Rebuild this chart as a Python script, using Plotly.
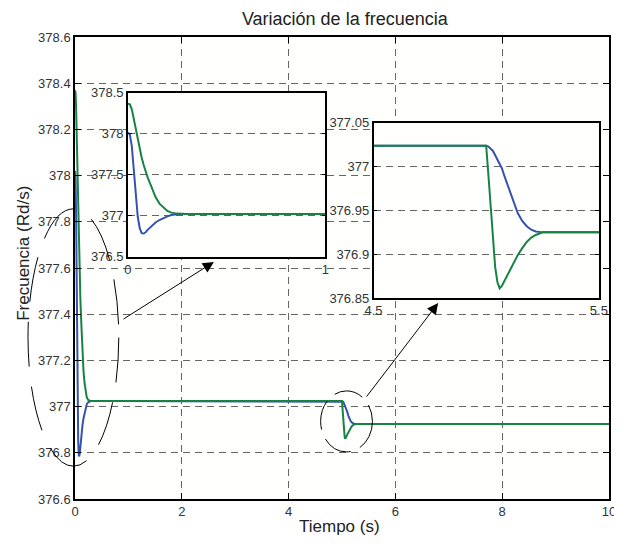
import plotly.graph_objects as go

# tiempo (s)
t = [0, 0.01, 0.02, 0.03, 0.04, 0.05, 0.06, 0.07, 0.08, 0.09, 0.10, 0.12, 0.14,
     0.16, 0.18, 0.20, 0.22, 0.25, 0.30, 0.60, 1.0, 2.0, 3.0, 4.0, 4.5, 5.0,
     5.01, 5.02, 5.03, 5.04, 5.05, 5.06, 5.07, 5.08, 5.10, 5.12, 5.14, 5.16,
     5.18, 5.20, 5.22, 5.25, 5.30, 5.40, 5.5, 6.0, 8.0, 10.0]

# frecuencia (Rd/s)
azul = [378.02, 377.99, 377.85, 377.55, 377.25, 376.99, 376.85, 376.79, 376.785,
        376.8, 376.83, 376.88, 376.92, 376.95, 376.975, 376.995, 377.01, 377.02,
        377.024, 377.024, 377.024, 377.024, 377.024, 377.024, 377.024, 377.024,
        377.023, 377.021, 377.018, 377.013, 377.008, 377.003, 376.998, 376.99,
        376.976, 376.96, 376.947, 376.938, 376.932, 376.928, 376.926, 376.925,
        376.925, 376.925, 376.925, 376.925, 376.925, 376.925]
verde = [378.37, 378.36, 378.3, 378.18, 378.05, 377.93, 377.81, 377.71, 377.62,
         377.54, 377.47, 377.35, 377.23, 377.15, 377.1, 377.06, 377.04, 377.028,
         377.024, 377.024, 377.024, 377.024, 377.024, 377.024, 377.024, 377.024,
         376.99, 376.955, 376.915, 376.885, 376.868, 376.861, 376.864, 376.869,
         376.88, 376.89, 376.899, 376.907, 376.914, 376.919, 376.922, 376.925,
         376.925, 376.925, 376.925, 376.925, 376.925, 376.925]

AZUL = "#3553ad"
VERDE = "#178243"
GRID = "#666666"
FUENTE = "Liberation Sans, Arial, sans-serif"

fig = go.Figure()

for xa, ya in [("x", "y"), ("x2", "y2"), ("x3", "y3")]:
    fig.add_trace(go.Scatter(x=t, y=azul, mode="lines", xaxis=xa, yaxis=ya,
                             line=dict(color=AZUL, width=2), showlegend=False))
    fig.add_trace(go.Scatter(x=t, y=verde, mode="lines", xaxis=xa, yaxis=ya,
                             line=dict(color=VERDE, width=2), showlegend=False))

eje = dict(showline=True, linecolor="black", linewidth=1.5, mirror="ticks",
           ticks="inside", ticklen=6, tickcolor="black", zeroline=False,
           tickfont=dict(family=FUENTE, size=13, color="#333"))
rejilla = dict(showgrid=True, gridcolor=GRID, griddash="7px,5px", gridwidth=1)

# la pagina deja 8px de margen en el body: se compensa en los margenes
fig.update_layout(
    width=622, height=537,
    margin=dict(l=67, r=12, t=29, b=46),
    paper_bgcolor="white", plot_bgcolor="#fffffe",
    font=dict(family=FUENTE, color="#222"),
    title=dict(text="Variación de la frecuencia", x=0.5415, xanchor="center",
               y=0.981, yanchor="middle", font=dict(size=18, color="#222")),
    xaxis=dict(eje, **rejilla, range=[0, 10], dtick=2),
    yaxis=dict(eje, **rejilla, range=[376.6, 378.6], dtick=0.2),
    xaxis2=dict(eje, domain=[0.099, 0.469], anchor="y2", range=[0, 1],
                tickvals=[0, 1], showgrid=False, ticklen=4),
    yaxis2=dict(eje, **rejilla, domain=[0.524, 0.879], anchor="x2",
                range=[376.5, 378.5], dtick=0.5, ticklen=4),
    xaxis3=dict(eje, domain=[0.559, 0.981], anchor="y3", range=[4.5, 5.5],
                tickvals=[4.5, 5.5], showgrid=False, ticklen=4),
    yaxis3=dict(eje, **rejilla, domain=[0.435, 0.814], anchor="x3",
                range=[376.85, 377.05],
                tickvals=[376.85, 376.9, 376.95, 377, 377.05],
                ticktext=["376.85", "376.9", "376.95", "377", "377.05"],
                ticklen=4),
)

# titulos de los ejes
fig.add_annotation(text="Tiempo (s)", xref="paper", yref="paper", x=0.495,
                   y=-0.0606, xanchor="center", yanchor="middle",
                   showarrow=False, font=dict(size=17, color="#222"))
fig.add_annotation(text="Frecuencia (Rd/s)", xref="paper", yref="paper",
                   x=-0.0953, y=0.531, xanchor="center", yanchor="middle",
                   textangle=-90, showarrow=False,
                   font=dict(size=17, color="#222"))

# elipses punteadas
fig.add_shape(type="circle", xref="paper", yref="paper",
              x0=-0.088, x1=0.082, y0=0.071, y1=0.628,
              line=dict(color="black", width=1, dash="45px,20px"))
fig.add_shape(type="circle", xref="paper", yref="paper",
              x0=0.460, x1=0.557, y0=0.102, y1=0.234,
              line=dict(color="black", width=1, dash="30px,10px"))

# flechas
fig.add_annotation(x=2.6, y=377.626, ax=0.88, ay=377.375, xref="x", yref="y",
                   axref="x", ayref="y", text="", showarrow=True,
                   arrowhead=2, arrowsize=2.2, arrowwidth=1, arrowcolor="black")
fig.add_annotation(x=6.8, y=377.448, ax=5.44, ay=377.037, xref="x", yref="y",
                   axref="x", ayref="y", text="", showarrow=True,
                   arrowhead=2, arrowsize=2.2, arrowwidth=1, arrowcolor="black")

fig.write_html("out.html")
